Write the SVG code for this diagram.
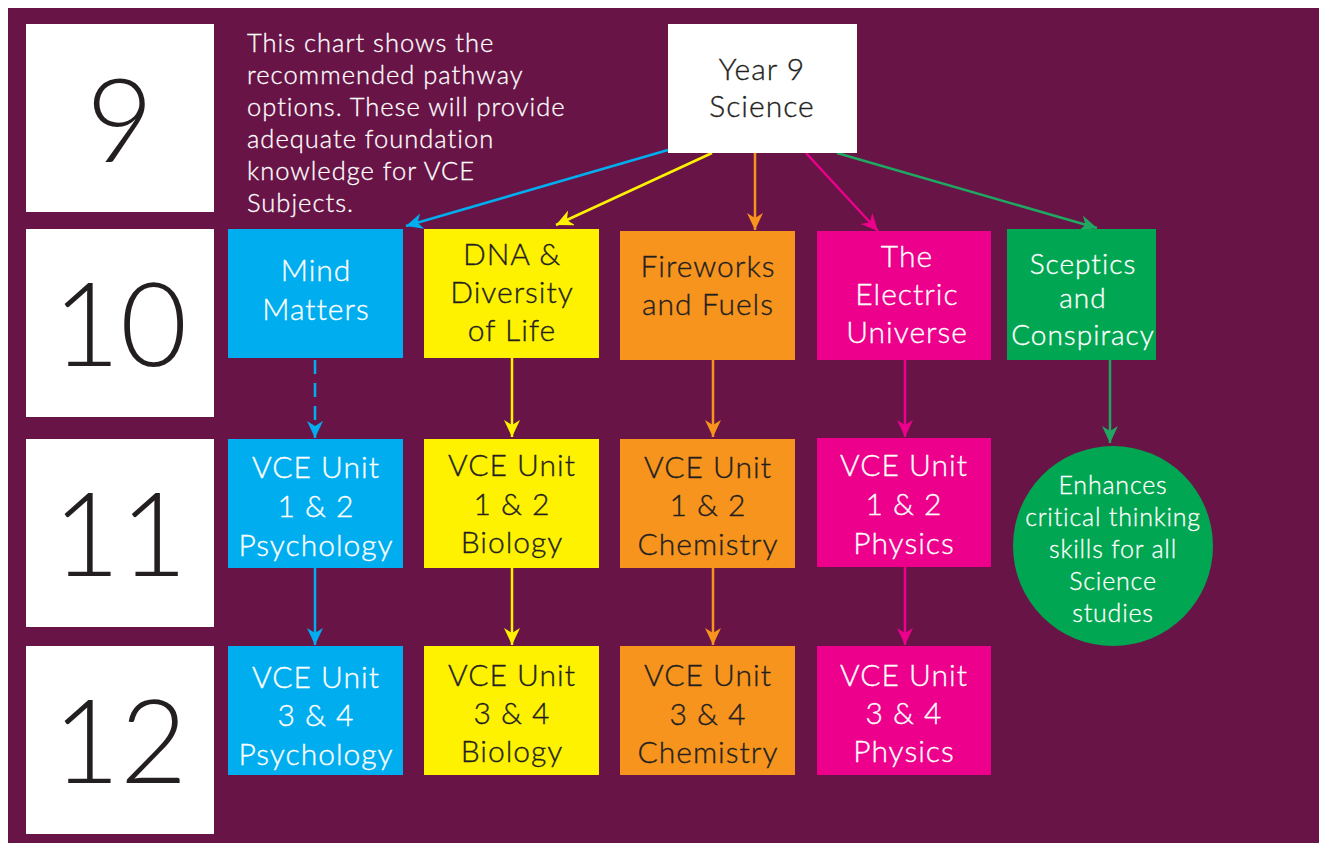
<svg xmlns="http://www.w3.org/2000/svg" width="1319" height="843" viewBox="0 0 1319 843">
<style>
.yr{fill:#fff}
.num{font-family:Lato,"Noto Sans",sans-serif;font-weight:300;font-size:116px;fill:#231f20;text-anchor:middle}
.t{font-family:Lato,"Noto Sans",sans-serif;font-weight:300;font-size:30px;letter-spacing:1px;text-anchor:middle;stroke-width:0.35px}
.w{fill:#fff;stroke:#fff}
.d{fill:#231f20;stroke:#231f20}
.desc{font-family:Lato,"Noto Sans",sans-serif;font-weight:300;font-size:25.5px;letter-spacing:1px;fill:#fff;stroke:#fff;stroke-width:0.3px}
.c{font-family:Lato,"Noto Sans",sans-serif;font-weight:300;font-size:25px;letter-spacing:0.8px;fill:#fff;stroke:#fff;stroke-width:0.3px;text-anchor:middle}
.ln{fill:none;stroke-width:2.5}
</style>
<defs>
<marker id="aB" markerUnits="userSpaceOnUse" markerWidth="20" markerHeight="20" refX="17" refY="8" orient="auto"><path d="M17,8 L0,0 L5,8 L0,16 Z" fill="#00aeef"/></marker>
<marker id="aY" markerUnits="userSpaceOnUse" markerWidth="20" markerHeight="20" refX="17" refY="8" orient="auto"><path d="M17,8 L0,0 L5,8 L0,16 Z" fill="#fff200"/></marker>
<marker id="aO" markerUnits="userSpaceOnUse" markerWidth="20" markerHeight="20" refX="17" refY="8" orient="auto"><path d="M17,8 L0,0 L5,8 L0,16 Z" fill="#f7941d"/></marker>
<marker id="aP" markerUnits="userSpaceOnUse" markerWidth="20" markerHeight="20" refX="17" refY="8" orient="auto"><path d="M17,8 L0,0 L5,8 L0,16 Z" fill="#ec008c"/></marker>
<marker id="aG" markerUnits="userSpaceOnUse" markerWidth="20" markerHeight="20" refX="17" refY="8" orient="auto"><path d="M17,8 L0,0 L5,8 L0,16 Z" fill="#1fa862"/></marker>
</defs>
<rect x="0" y="0" width="1319" height="843" fill="#fff"/>
<rect x="8" y="8" width="1311" height="835" fill="#681446"/>

<g id="year9"><rect class="yr" x="26" y="24" width="188" height="188"/><text class="num" x="120" y="162">9</text></g>
<g id="year10"><rect class="yr" x="26" y="229" width="188" height="188"/><text class="num" x="120" y="366">10</text></g>
<g id="year11"><rect class="yr" x="26" y="439" width="188" height="188"/><text class="num" x="120" y="576">11</text></g>
<g id="year12"><rect class="yr" x="26" y="646" width="188" height="188"/><text class="num" x="120" y="783">12</text></g>

<g id="description">
<text class="desc" x="247" y="52">This chart shows the</text>
<text class="desc" x="247" y="84">recommended pathway</text>
<text class="desc" x="247" y="116">options. These will provide</text>
<text class="desc" x="247" y="148">adequate foundation</text>
<text class="desc" x="247" y="180">knowledge for VCE</text>
<text class="desc" x="247" y="212">Subjects.</text>
</g>

<g id="connectors">
<line class="ln" stroke="#00aeef" x1="668" y1="150" x2="406" y2="226" marker-end="url(#aB)"/>
<line class="ln" stroke="#fff200" x1="712" y1="153" x2="556" y2="225" marker-end="url(#aY)"/>
<line class="ln" stroke="#f7941d" x1="755" y1="153" x2="755" y2="230" marker-end="url(#aO)"/>
<line class="ln" stroke="#ec008c" x1="806" y1="153" x2="878" y2="231" marker-end="url(#aP)"/>
<line class="ln" stroke="#1fa862" x1="837" y1="153" x2="1097" y2="228" marker-end="url(#aG)"/>
<line class="ln" stroke="#00aeef" stroke-dasharray="14,9" x1="315" y1="360" x2="315" y2="438" marker-end="url(#aB)"/>
<line class="ln" stroke="#00aeef" x1="315" y1="568" x2="315" y2="645" marker-end="url(#aB)"/>
<line class="ln" stroke="#fff200" x1="512" y1="358" x2="512" y2="437" marker-end="url(#aY)"/>
<line class="ln" stroke="#fff200" x1="512" y1="568" x2="512" y2="645" marker-end="url(#aY)"/>
<line class="ln" stroke="#f7941d" x1="713" y1="360" x2="713" y2="437" marker-end="url(#aO)"/>
<line class="ln" stroke="#f7941d" x1="713" y1="568" x2="713" y2="645" marker-end="url(#aO)"/>
<line class="ln" stroke="#ec008c" x1="905" y1="360" x2="905" y2="437" marker-end="url(#aP)"/>
<line class="ln" stroke="#ec008c" x1="905" y1="567" x2="905" y2="645" marker-end="url(#aP)"/>
<line class="ln" stroke="#1fa862" x1="1110" y1="360" x2="1110" y2="443" marker-end="url(#aG)"/>
</g>

<g id="year9-science"><rect x="668" y="24" width="189" height="129" fill="#fff"/>
<text class="t d" x="762" y="80">Year 9</text><text class="t d" x="762" y="117">Science</text></g>

<g id="mind-matters"><rect x="228" y="229" width="175" height="129" fill="#00aeef"/>
<text class="t w" x="316" y="281">Mind</text><text class="t w" x="316" y="320">Matters</text></g>
<g id="dna"><rect x="424" y="229" width="175" height="129" fill="#fff200"/>
<text class="t d" x="512" y="265">DNA &amp;</text><text class="t d" x="512" y="303">Diversity</text><text class="t d" x="512" y="341">of Life</text></g>
<g id="fireworks"><rect x="620" y="231" width="175" height="129" fill="#f7941d"/>
<text class="t d" x="708" y="277">Fireworks</text><text class="t d" x="708" y="315">and Fuels</text></g>
<g id="electric"><rect x="817" y="231" width="174" height="129" fill="#ec008c"/>
<text class="t w" x="907" y="267">The</text><text class="t w" x="907" y="305">Electric</text><text class="t w" x="907" y="343">Universe</text></g>
<g id="sceptics"><rect x="1007" y="229" width="149" height="131" fill="#00a651"/>
<text class="t w" x="1083" y="274" style="font-size:28px">Sceptics</text><text class="t w" x="1083" y="308" style="font-size:28px">and</text><text class="t w" x="1083" y="345" style="font-size:28px">Conspiracy</text></g>

<g id="psych12"><rect x="228" y="439" width="175" height="129" fill="#00aeef"/>
<text class="t w" x="316" y="478">VCE Unit</text><text class="t w" x="316" y="517">1 &amp; 2</text><text class="t w" x="316" y="556">Psychology</text></g>
<g id="bio12"><rect x="424" y="439" width="175" height="129" fill="#fff200"/>
<text class="t d" x="512" y="476">VCE Unit</text><text class="t d" x="512" y="515">1 &amp; 2</text><text class="t d" x="512" y="553">Biology</text></g>
<g id="chem12"><rect x="620" y="439" width="175" height="129" fill="#f7941d"/>
<text class="t d" x="708" y="478">VCE Unit</text><text class="t d" x="708" y="516">1 &amp; 2</text><text class="t d" x="708" y="555">Chemistry</text></g>
<g id="phys12"><rect x="817" y="438" width="174" height="129" fill="#ec008c"/>
<text class="t w" x="904" y="476">VCE Unit</text><text class="t w" x="904" y="515">1 &amp; 2</text><text class="t w" x="904" y="554">Physics</text></g>
<g id="enhances"><circle cx="1113" cy="546" r="100" fill="#00a651"/>
<text class="c" x="1113" y="494">Enhances</text><text class="c" x="1113" y="526">critical thinking</text><text class="c" x="1113" y="558">skills for all</text><text class="c" x="1113" y="590">Science</text><text class="c" x="1113" y="622">studies</text></g>

<g id="psych34"><rect x="228" y="646" width="175" height="129" fill="#00aeef"/>
<text class="t w" x="316" y="688">VCE Unit</text><text class="t w" x="316" y="726">3 &amp; 4</text><text class="t w" x="316" y="765">Psychology</text></g>
<g id="bio34"><rect x="424" y="646" width="175" height="129" fill="#fff200"/>
<text class="t d" x="512" y="686">VCE Unit</text><text class="t d" x="512" y="724">3 &amp; 4</text><text class="t d" x="512" y="762">Biology</text></g>
<g id="chem34"><rect x="620" y="646" width="175" height="129" fill="#f7941d"/>
<text class="t d" x="708" y="686">VCE Unit</text><text class="t d" x="708" y="725">3 &amp; 4</text><text class="t d" x="708" y="763">Chemistry</text></g>
<g id="phys34"><rect x="817" y="646" width="174" height="129" fill="#ec008c"/>
<text class="t w" x="904" y="686">VCE Unit</text><text class="t w" x="904" y="724">3 &amp; 4</text><text class="t w" x="904" y="762">Physics</text></g>
</svg>
